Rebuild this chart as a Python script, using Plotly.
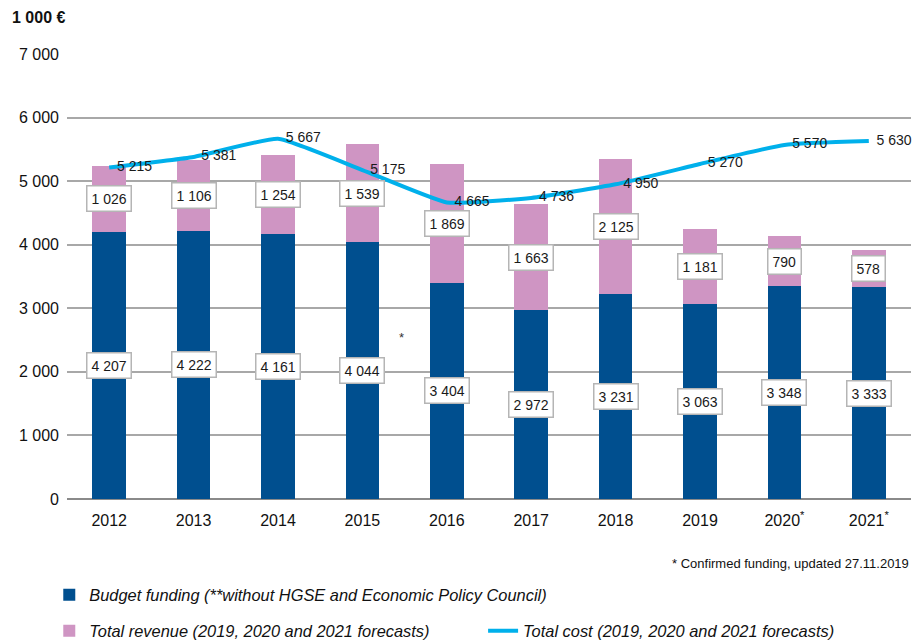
import plotly.graph_objects as go

years = ["2012", "2013", "2014", "2015", "2016", "2017", "2018", "2019", "2020", "2021"]
year_labels = ["2012", "2013", "2014", "2015", "2016", "2017", "2018", "2019",
               "2020<sup>*</sup>", "2021<sup>*</sup>"]
budget = [4207, 4222, 4161, 4044, 3404, 2972, 3231, 3063, 3348, 3333]
revenue = [1026, 1106, 1254, 1539, 1869, 1663, 2125, 1181, 790, 578]
cost = [5215, 5381, 5667, 5175, 4665, 4736, 4950, 5270, 5570, 5630]
y_ticks = [0, 1000, 2000, 3000, 4000, 5000, 6000, 7000]

FONT = "Liberation Sans Narrow, Liberation Sans, Arial, sans-serif"
NAVY = "#004f8f"
PINK = "#cf95c3"
CYAN = "#00b0eb"


def fmt(v):
    return f"{v:,}".replace(",", "\u00a0")


fig = go.Figure()
fig.add_trace(go.Bar(
    x=years, y=budget, name="Budget funding (**without HGSE and Economic Policy Council)",
    marker=dict(color=NAVY, line=dict(width=0)), width=0.4, legend="legend",
))
fig.add_trace(go.Bar(
    x=years, y=revenue, name="Total revenue (2019, 2020 and 2021 forecasts)",
    marker=dict(color=PINK, line=dict(width=0)), width=0.4, legend="legend2",
))
fig.add_trace(go.Scatter(
    x=years, y=cost, name="Total cost (2019, 2020 and 2021 forecasts)",
    mode="lines+text", line=dict(color=CYAN, width=4, shape="spline", smoothing=0.4),
    text=["\u00a0\u00a0" + fmt(v) for v in cost], textposition="middle right",
    textfont=dict(family=FONT, size=14, color="#1a1a1a"),
    legend="legend3", cliponaxis=False,
))

annotations = []
for i, (b, r) in enumerate(zip(budget, revenue)):
    annotations.append(dict(
        x=i, y=b / 2, xref="x", yref="y", text=fmt(b), showarrow=False,
        font=dict(family=FONT, size=14, color="#1a1a1a"),
        bgcolor="white", bordercolor="#b5b5b5", borderwidth=1.5, borderpad=4,
    ))
    annotations.append(dict(
        x=i, y=b + r / 2, xref="x", yref="y", text=fmt(r), showarrow=False,
        font=dict(family=FONT, size=14, color="#1a1a1a"),
        bgcolor="white", bordercolor="#b5b5b5", borderwidth=1.5, borderpad=4,
    ))

annotations.append(dict(
    xref="paper", yref="paper", x=-0.068, y=1.083, xanchor="left", yanchor="middle",
    text="<b>1 000 €</b>", showarrow=False, font=dict(family=FONT, size=16, color="#111"),
))
annotations.append(dict(
    xref="paper", yref="paper", x=1.0, y=-0.145, xanchor="right", yanchor="middle",
    text="* Confirmed funding, updated 27.11.2019", showarrow=False,
    font=dict(family=FONT, size=13, color="#111"),
))
annotations.append(dict(
    xref="paper", yref="paper", x=0.396, y=0.362, xanchor="center", yanchor="middle",
    text="*", showarrow=False, font=dict(family=FONT, size=13, color="#333"),
))

leg_font = dict(family=FONT, size=16.4, color="#111", style="italic")
fig.update_layout(
    width=915, height=642,
    margin=dict(l=67, r=4, t=54, b=143),
    paper_bgcolor="white", plot_bgcolor="white",
    barmode="stack",
    font=dict(family=FONT, size=16, color="#111"),
    xaxis=dict(
        type="category",
        tickmode="array", tickvals=years, ticktext=year_labels,
        showgrid=False, showline=False, ticks="",
        tickfont=dict(family=FONT, size=16, color="#111"),
        range=[-0.5, 9.5], ticklabelstandoff=10,
    ),
    yaxis=dict(
        range=[0, 7000], tickmode="array", tickvals=y_ticks,
        ticktext=[fmt(v) for v in y_ticks],
        showgrid=True, gridcolor="#a8a8a8", gridwidth=1.5,
        zeroline=True, zerolinecolor="#8a8a8a", zerolinewidth=1.5,
        tickfont=dict(family=FONT, size=16, color="#111"),
        ticks="", ticklabelstandoff=7,
    ),
    showlegend=True,
    legend=dict(x=-0.021, y=0.0732, xanchor="left", yanchor="middle", yref="container",
                font=leg_font, bgcolor="rgba(0,0,0,0)", itemwidth=30),
    legend2=dict(x=-0.021, y=0.0171, xanchor="left", yanchor="middle", yref="container",
                 font=leg_font, bgcolor="rgba(0,0,0,0)", itemwidth=30),
    legend3=dict(x=0.493, y=0.0171, xanchor="left", yanchor="middle", yref="container",
                 font=leg_font, bgcolor="rgba(0,0,0,0)", itemwidth=30),
    annotations=annotations,
)

fig.write_html("out.html", post_script="document.body.style.margin='0';",
               config={"displayModeBar": False})
